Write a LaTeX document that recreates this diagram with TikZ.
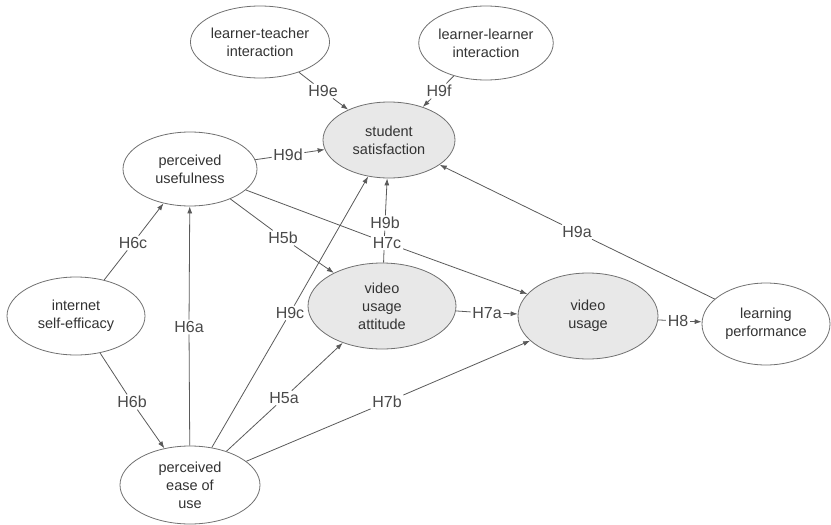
\documentclass[tikz,border=0pt]{standalone}
\usepackage{fontspec}
\setmainfont{Liberation Sans}
\usetikzlibrary{shapes.geometric,arrows.meta,backgrounds}
\definecolor{linecol}{HTML}{5A5A5A}
\definecolor{bordercol}{HTML}{707070}
\definecolor{shadecol}{HTML}{E8E8E8}
\definecolor{textcol}{HTML}{333333}
\definecolor{labcol}{HTML}{4A4A4A}
\begin{document}
\begin{tikzpicture}[x=1pt,y=-1pt,
  ell/.style={ellipse, draw=bordercol, line width=0.8pt, fill=white, inner sep=0pt, align=center, font=\fontsize{14.5}{18}\selectfont, text=textcol},
  shadedell/.style={ell, fill=shadecol},
  hlab/.style={fill=white, inner sep=1.5pt, font=\fontsize{16}{18}\selectfont, text=labcol},
  conn/.style={draw=linecol, line width=0.8pt},
  arr/.style={conn, -{Latex[length=7pt,width=5pt]}}]
\useasboundingbox (0,0) rectangle (831,525);
% nodes
\node[ell, minimum width=136pt, minimum height=72pt] (lt) at (260,42) {learner-teacher\\interaction};
\node[ell, minimum width=132pt, minimum height=74pt] (ll) at (486,43) {learner-learner\\interaction};
\node[shadedell, minimum width=132pt, minimum height=76pt] (ss) at (389,140) {student\\satisfaction};
\node[ell, minimum width=134pt, minimum height=74pt] (pu) at (190,169) {perceived\\usefulness};
\node[ell, minimum width=138pt, minimum height=78pt] (ise) at (76,316) {internet\\self-efficacy};
\node[shadedell, minimum width=148pt, minimum height=86pt] (vua) at (382,306) {video\\usage\\attitude};
\node[shadedell, minimum width=140pt, minimum height=86pt] (vu) at (588,316) {video\\usage};
\node[ell, minimum width=128pt, minimum height=82pt] (lp) at (766,324) {learning\\performance};
\node[ell, minimum width=140pt, minimum height=78pt] (peou) at (190,485) {perceived\\ease of\\use};
% labels
\node[hlab] (h9e) at (323,91) {H9e};
\node[hlab] (h9f) at (439,91) {H9f};
\node[hlab] (h9d) at (288,155) {H9d};
\node[hlab] (h9b) at (385,223) {H9b};
\node[hlab] (h7c) at (387,243) {H7c};
\node[hlab] (h5b) at (283,238) {H5b};
\node[hlab] (h6c) at (133,243) {H6c};
\node[hlab] (h6a) at (189,327) {H6a};
\node[hlab] (h9c) at (290,313) {H9c};
\node[hlab] (h9a) at (577,232) {H9a};
\node[hlab] (h7a) at (487,313) {H7a};
\node[hlab] (h8) at (678,321) {H8};
\node[hlab] (h6b) at (132,402) {H6b};
\node[hlab] (h5a) at (284,398) {H5a};
\node[hlab] (h7b) at (387,402) {H7b};
% connectors
\begin{scope}[on background layer]
\draw[conn] (lt) -- (h9e); \draw[arr] (h9e) -- (ss);
\draw[conn] (ll) -- (h9f); \draw[arr] (h9f) -- (ss);
\draw[conn] (pu) -- (h9d); \draw[arr] (h9d) -- (ss);
\draw[conn] (vua) -- (h9b); \draw[arr] (h9b) -- (ss);
\draw[conn] (pu) -- (h7c); \draw[arr] (h7c) -- (vu);
\draw[conn] (pu) -- (h5b); \draw[arr] (h5b) -- (vua);
\draw[conn] (ise) -- (h6c); \draw[arr] (h6c) -- (pu);
\draw[conn] (peou) -- (h6a); \draw[arr] (h6a) -- (pu);
\draw[conn] (peou) -- (h9c); \draw[arr] (h9c) -- (ss);
\draw[conn] (lp) -- (h9a); \draw[arr] (h9a) -- (ss);
\draw[conn] (vua) -- (h7a); \draw[arr] (h7a) -- (vu);
\draw[conn] (vu) -- (h8); \draw[arr] (h8) -- (lp);
\draw[conn] (ise) -- (h6b); \draw[arr] (h6b) -- (peou);
\draw[conn] (peou) -- (h5a); \draw[arr] (h5a) -- (vua);
\draw[conn] (peou) -- (h7b); \draw[arr] (h7b) -- (vu);
\end{scope}
\end{tikzpicture}
\end{document}
